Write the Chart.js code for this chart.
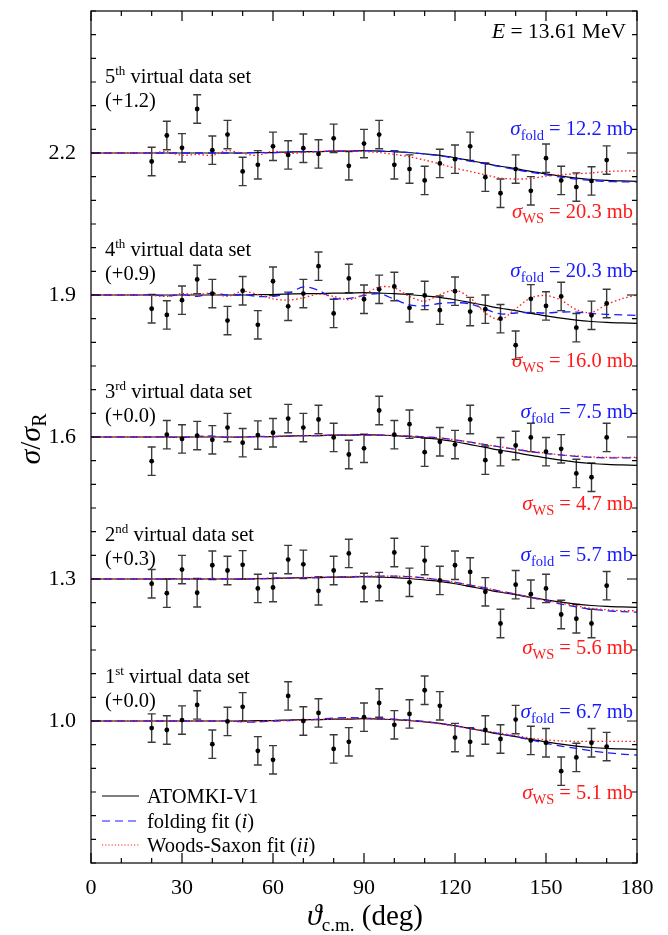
<!DOCTYPE html>
<html lang="en">
<head>
    <meta charset="UTF-8">
    <title>Virtual data sets - E = 13.61 MeV</title>
    <script src="https://cdn.jsdelivr.net/npm/chart.js"></script>
    <style>
        body { margin: 0; background: #fff; }
        #wrap { width: 668px; height: 935px; }
    </style>
</head>
<body>
<div id="wrap"><canvas id="chart"></canvas></div>
<script>
// measured angles (deg)
const angles = [20, 25, 30, 35, 40, 45, 50, 55, 60, 65, 70, 75, 80, 85, 90, 95,
                100, 105, 110, 115, 120, 125, 130, 135, 140, 145, 150, 155, 160, 165, 170];
const errHalf = 0.03;

// virtual data sets (already shifted as drawn)
const set1 = [0.985, 0.981, 1.002, 1.034, 0.951, 0.999, 1.030, 0.937, 0.918, 1.053, 1.000, 1.017, 0.941, 0.956, 1.008, 1.038,
              0.992, 1.015, 1.065, 1.032, 0.965, 0.956, 0.981, 0.962, 1.003, 0.959, 0.954, 0.894, 0.923, 0.954, 0.946];
const set2 = [1.290, 1.270, 1.320, 1.271, 1.329, 1.318, 1.330, 1.280, 1.282, 1.341, 1.331, 1.275, 1.318, 1.354, 1.282, 1.284,
              1.356, 1.293, 1.339, 1.297, 1.329, 1.315, 1.273, 1.206, 1.288, 1.268, 1.280, 1.225, 1.216, 1.206, 1.286];
const set3 = [1.549, 1.605, 1.596, 1.603, 1.594, 1.620, 1.588, 1.604, 1.609, 1.639, 1.620, 1.637, 1.599, 1.563, 1.576, 1.656,
              1.605, 1.627, 1.568, 1.590, 1.584, 1.637, 1.551, 1.569, 1.582, 1.599, 1.569, 1.575, 1.523, 1.515, 1.599];
const set4 = [1.871, 1.858, 1.889, 1.933, 1.903, 1.846, 1.909, 1.837, 1.929, 1.876, 1.903, 1.961, 1.861, 1.935, 1.891, 1.912,
              1.918, 1.873, 1.899, 1.868, 1.908, 1.865, 1.870, 1.850, 1.794, 1.892, 1.877, 1.897, 1.831, 1.857, 1.882];
const set5 = [2.182, 2.237, 2.211, 2.293, 2.206, 2.239, 2.161, 2.175, 2.214, 2.196, 2.210, 2.198, 2.231, 2.173, 2.220, 2.239,
              2.175, 2.166, 2.142, 2.178, 2.187, 2.214, 2.149, 2.115, 2.166, 2.120, 2.189, 2.142, 2.128, 2.141, 2.185];

// curves, sampled every 5 deg
const curveAngles = [0, 5, 10, 15, 20, 25, 30, 35, 40, 45, 50, 55, 60, 65, 70, 75, 80, 85, 90,
                     95, 100, 105, 110, 115, 120, 125, 130, 135, 140, 145, 150, 155, 160, 165, 170, 175, 180];

const atomki1 = [1, 1, 1, 1, 1, 1, 1, 1, 1, 1, 1, 1.001, 1.001, 1.002, 1.003, 1.003, 1.004, 1.004, 1.005,
                 1.004, 1.003, 1.001, 0.998, 0.995, 0.990, 0.984, 0.978, 0.972, 0.967, 0.961, 0.956, 0.951, 0.947, 0.944, 0.942, 0.941, 0.940];
const fold1   = [1, 1, 1, 1, 1, 1, 1, 1, 1, 1, 0.998, 0.998, 1.000, 1.001, 1.002, 1.004, 1.006, 1.007, 1.006,
                 1.005, 1.004, 1.002, 0.999, 0.995, 0.990, 0.985, 0.979, 0.973, 0.967, 0.960, 0.953, 0.947, 0.942, 0.937, 0.933, 0.930, 0.928];
const ws1     = [1, 1, 1, 1, 1, 1, 1, 1, 1, 1, 0.999, 0.999, 1.001, 1.001, 1.002, 1.003, 1.004, 1.005, 1.005,
                 1.004, 1.003, 1.001, 0.998, 0.994, 0.989, 0.984, 0.979, 0.974, 0.969, 0.964, 0.960, 0.958, 0.957, 0.957, 0.957, 0.957, 0.957];

const atomki2 = [1.3, 1.3, 1.3, 1.3, 1.3, 1.3, 1.3, 1.3, 1.3, 1.3, 1.3, 1.301, 1.301, 1.302, 1.303, 1.303, 1.304, 1.304, 1.305,
                 1.304, 1.303, 1.301, 1.298, 1.295, 1.290, 1.284, 1.278, 1.272, 1.267, 1.261, 1.256, 1.251, 1.247, 1.244, 1.242, 1.241, 1.240];
const fold2   = [1.3, 1.3, 1.3, 1.3, 1.3, 1.3, 1.301, 1.299, 1.301, 1.300, 1.300, 1.300, 1.302, 1.302, 1.303, 1.303, 1.304, 1.305, 1.305,
                 1.306, 1.306, 1.305, 1.302, 1.298, 1.293, 1.287, 1.281, 1.274, 1.268, 1.261, 1.254, 1.247, 1.241, 1.236, 1.233, 1.231, 1.230];
const ws2     = [1.3, 1.3, 1.3, 1.3, 1.3, 1.3, 1.301, 1.300, 1.301, 1.300, 1.300, 1.301, 1.302, 1.302, 1.303, 1.304, 1.304, 1.305, 1.306,
                 1.306, 1.306, 1.305, 1.302, 1.298, 1.293, 1.287, 1.281, 1.274, 1.268, 1.261, 1.255, 1.249, 1.243, 1.238, 1.235, 1.233, 1.233];

const atomki3 = [1.6, 1.6, 1.6, 1.6, 1.6, 1.6, 1.6, 1.6, 1.6, 1.6, 1.6, 1.601, 1.601, 1.602, 1.603, 1.603, 1.604, 1.604, 1.605,
                 1.604, 1.603, 1.601, 1.598, 1.595, 1.590, 1.584, 1.578, 1.572, 1.567, 1.561, 1.556, 1.551, 1.547, 1.544, 1.542, 1.541, 1.540];
const fold3   = [1.6, 1.6, 1.6, 1.6, 1.6, 1.6, 1.599, 1.601, 1.602, 1.599, 1.600, 1.601, 1.601, 1.602, 1.603, 1.603, 1.604, 1.604, 1.604,
                 1.604, 1.603, 1.602, 1.600, 1.598, 1.594, 1.589, 1.584, 1.579, 1.574, 1.569, 1.565, 1.562, 1.559, 1.557, 1.556, 1.556, 1.556];
const ws3     = [1.6, 1.6, 1.6, 1.6, 1.6, 1.6, 1.600, 1.601, 1.601, 1.600, 1.600, 1.601, 1.601, 1.602, 1.603, 1.603, 1.604, 1.604, 1.604,
                 1.604, 1.603, 1.602, 1.600, 1.598, 1.594, 1.589, 1.584, 1.579, 1.574, 1.570, 1.566, 1.562, 1.560, 1.558, 1.557, 1.557, 1.557];

const atomki4 = [1.9, 1.9, 1.9, 1.9, 1.9, 1.9, 1.9, 1.9, 1.9, 1.9, 1.9, 1.901, 1.901, 1.902, 1.903, 1.903, 1.904, 1.904, 1.905,
                 1.904, 1.903, 1.901, 1.898, 1.895, 1.890, 1.884, 1.878, 1.872, 1.867, 1.861, 1.856, 1.851, 1.847, 1.844, 1.842, 1.841, 1.840];
const fold4   = [1.9, 1.9, 1.9, 1.9, 1.9, 1.898, 1.901, 1.897, 1.904, 1.900, 1.901, 1.897, 1.897, 1.903, 1.917, 1.910, 1.893, 1.893, 1.899,
                 1.903, 1.891, 1.879, 1.877, 1.882, 1.884, 1.881, 1.870, 1.860, 1.862, 1.863, 1.862, 1.864, 1.864, 1.861, 1.859, 1.858, 1.857];
const ws4     = [1.9, 1.9, 1.9, 1.9, 1.899, 1.897, 1.903, 1.901, 1.904, 1.897, 1.908, 1.901, 1.892, 1.889, 1.894, 1.902, 1.897, 1.890, 1.901,
                 1.917, 1.915, 1.897, 1.887, 1.901, 1.910, 1.894, 1.862, 1.848, 1.871, 1.894, 1.899, 1.889, 1.869, 1.863, 1.880, 1.892, 1.900];

const atomki5 = [2.2, 2.2, 2.2, 2.2, 2.2, 2.2, 2.2, 2.2, 2.2, 2.2, 2.2, 2.201, 2.201, 2.202, 2.203, 2.203, 2.204, 2.204, 2.205,
                 2.204, 2.203, 2.201, 2.198, 2.195, 2.190, 2.184, 2.178, 2.172, 2.167, 2.161, 2.156, 2.151, 2.147, 2.144, 2.142, 2.141, 2.140];
const fold5   = [2.2, 2.2, 2.2, 2.2, 2.2, 2.2, 2.2, 2.2, 2.2, 2.2, 2.2, 2.201, 2.201, 2.202, 2.203, 2.203, 2.204, 2.204, 2.205,
                 2.204, 2.203, 2.201, 2.198, 2.194, 2.189, 2.183, 2.177, 2.171, 2.165, 2.159, 2.154, 2.149, 2.145, 2.142, 2.140, 2.139, 2.139];
const ws5     = [2.2, 2.2, 2.2, 2.2, 2.2, 2.203, 2.195, 2.197, 2.195, 2.205, 2.199, 2.195, 2.204, 2.199, 2.201, 2.203, 2.204, 2.204, 2.203,
                 2.201, 2.197, 2.192, 2.185, 2.177, 2.168, 2.161, 2.154, 2.147, 2.145, 2.146, 2.151, 2.154, 2.156, 2.158, 2.161, 2.162, 2.162];

const xTickLabels = [0, 30, 60, 90, 120, 150, 180];
const yTickLabels = [1.0, 1.3, 1.6, 1.9, 2.2];

const dataSets = [set1, set2, set3, set4, set5];
const atomkiCurves = [atomki1, atomki2, atomki3, atomki4, atomki5];
const foldCurves = [fold1, fold2, fold3, fold4, fold5];
const wsCurves = [ws1, ws2, ws3, ws4, ws5];

const SERIF = '"Liberation Serif", "Times New Roman", serif';
const BLUE = '#1a1aff';
const RED = '#ff1a1a';

const pts = arr => arr.map((v, i) => ({ x: angles[i], y: v }));
const crv = arr => arr.map((v, i) => ({ x: curveAngles[i], y: v }));

const datasets = [];
atomkiCurves.forEach(c => datasets.push({ data: crv(c), showLine: true, pointRadius: 0, borderColor: '#000', borderWidth: 1.2, tension: 0.3, order: 3 }));
foldCurves.forEach(c => datasets.push({ data: crv(c), showLine: true, pointRadius: 0, borderColor: BLUE, borderWidth: 1.3, borderDash: [8, 5], tension: 0.3, order: 2 }));
wsCurves.forEach(c => datasets.push({ data: crv(c), showLine: true, pointRadius: 0, borderColor: RED, borderWidth: 1.3, borderDash: [1.5, 2.5], tension: 0.3, order: 1 }));
dataSets.forEach(s => datasets.push({ data: pts(s), isData: true, pointRadius: 2.4, pointBackgroundColor: '#000', pointBorderWidth: 0, showLine: false, order: 0 }));

// text drawn with sub/superscripts: [text, font, dy]
function rich(ctx, parts, x, y, align) {
    let w = 0;
    parts.forEach(p => { ctx.font = p[1]; w += ctx.measureText(p[0]).width; });
    let cx = align === 'right' ? x - w : (align === 'center' ? x - w / 2 : x);
    parts.forEach(p => {
        ctx.font = p[1];
        ctx.fillText(p[0], cx, y + (p[2] || 0));
        cx += ctx.measureText(p[0]).width;
    });
}

const N = '20.5px ' + SERIF;
const I = 'italic 21px ' + SERIF;
const SUB = '14.5px ' + SERIF;
const SUP = '13px ' + SERIF;

const setLabels = [
    { n: '1', s: 'st', off: '(+0.0)', y: 683 },
    { n: '2', s: 'nd', off: '(+0.3)', y: 541 },
    { n: '3', s: 'rd', off: '(+0.0)', y: 398 },
    { n: '4', s: 'th', off: '(+0.9)', y: 256 },
    { n: '5', s: 'th', off: '(+1.2)', y: 83 }
];
const foldLabels = [['6.7', 718], ['5.7', 561], ['7.5', 418], ['20.3', 277], ['12.2', 135]];
const wsLabels = [['5.1', 799], ['5.6', 654], ['4.7', 510], ['16.0', 367], ['20.3', 218]];

const errorBars = {
    id: 'errorBars',
    beforeDatasetsDraw(chart) {
        const { ctx, scales: { x, y } } = chart;
        ctx.save();
        ctx.strokeStyle = '#3a3a3a';
        ctx.lineWidth = 1.4;
        chart.data.datasets.forEach(ds => {
            if (!ds.isData) return;
            ds.data.forEach(p => {
                const px = x.getPixelForValue(p.x);
                const y1 = y.getPixelForValue(p.y + errHalf);
                const y2 = y.getPixelForValue(p.y - errHalf);
                ctx.beginPath();
                ctx.moveTo(px, y1); ctx.lineTo(px, y2);
                ctx.moveTo(px - 4, y1); ctx.lineTo(px + 4, y1);
                ctx.moveTo(px - 4, y2); ctx.lineTo(px + 4, y2);
                ctx.stroke();
            });
        });
        ctx.restore();
    }
};

const frame = {
    id: 'frame',
    afterDraw(chart) {
        const { ctx, chartArea: a, scales: { x, y } } = chart;
        ctx.save();
        ctx.strokeStyle = '#000';
        ctx.lineWidth = 1.2;
        ctx.strokeRect(a.left, a.top, a.right - a.left, a.bottom - a.top);
        ctx.beginPath();
        for (let v = 0; v <= 180; v += 10) {
            const px = x.getPixelForValue(v);
            const L = v % 30 === 0 ? 10 : 5;
            ctx.moveTo(px, a.bottom); ctx.lineTo(px, a.bottom - L);
            ctx.moveTo(px, a.top); ctx.lineTo(px, a.top + L);
        }
        for (let i = 0; i <= 36; i++) {
            const v = 0.7 + i * 0.05;
            const py = y.getPixelForValue(v);
            const major = yTickLabels.some(t => Math.abs(t - v) < 1e-6);
            const L = major ? 10 : 5;
            ctx.moveTo(a.left, py); ctx.lineTo(a.left + L, py);
            ctx.moveTo(a.right, py); ctx.lineTo(a.right - L, py);
        }
        ctx.stroke();

        ctx.fillStyle = '#000';
        ctx.textBaseline = 'alphabetic';
        rich(ctx, [['E', 'italic 22px ' + SERIF], [' = 13.61 MeV', '21.5px ' + SERIF]], 626, 38, 'right');

        setLabels.forEach(l => {
            ctx.fillStyle = '#000';
            rich(ctx, [[l.n, N], [l.s, SUP, -8], [' virtual data set', N]], 105, l.y, 'left');
            rich(ctx, [[l.off, N]], 105, l.y + 23.5, 'left');
        });
        ctx.fillStyle = BLUE;
        foldLabels.forEach(f => rich(ctx, [['σ', I], ['fold', SUB, 5], [' = ' + f[0] + ' mb', N]], 633, f[1], 'right'));
        ctx.fillStyle = RED;
        wsLabels.forEach(f => rich(ctx, [['σ', I], ['WS', SUB, 5], [' = ' + f[0] + ' mb', N]], 633, f[1], 'right'));

        // legend
        const lx1 = 102, lx2 = 139;
        ctx.lineWidth = 1.2;
        [['#000', [], 796], [BLUE, [8, 5], 821], [RED, [1.2, 2], 845]].forEach(s => {
            ctx.strokeStyle = s[0];
            ctx.setLineDash(s[1]);
            ctx.beginPath(); ctx.moveTo(lx1, s[2]); ctx.lineTo(lx2, s[2]); ctx.stroke();
        });
        ctx.setLineDash([]);
        ctx.fillStyle = '#000';
        rich(ctx, [['ATOMKI-V1', N]], 147, 803, 'left');
        rich(ctx, [['folding fit (', N], ['i', I], [')', N]], 147, 828, 'left');
        rich(ctx, [['Woods-Saxon fit (', N], ['ii', I], [')', N]], 147, 852, 'left');

        // axis titles
        rich(ctx, [['ϑ', 'italic 30px ' + SERIF], ['c.m.', '19px ' + SERIF, 6], [' (deg)', '29px ' + SERIF]], 365, 925, 'center');
        ctx.translate(40, 439);
        ctx.rotate(-Math.PI / 2);
        rich(ctx, [['σ', 'italic 30px ' + SERIF], ['/', '29px ' + SERIF], ['σ', 'italic 30px ' + SERIF], ['R', '20px ' + SERIF, 6]], 0, 0, 'center');
        ctx.restore();
    }
};

new Chart(document.getElementById('chart'), {
    type: 'scatter',
    data: { datasets: datasets },
    options: {
        responsive: true,
        maintainAspectRatio: false,
        animation: false,
        layout: { padding: { top: 11, right: 31, left: 0, bottom: 0 } },
        plugins: { legend: { display: false }, tooltip: { enabled: false } },
        scales: {
            x: {
                type: 'linear', min: 0, max: 180,
                afterBuildTicks: s => { s.ticks = xTickLabels.map(v => ({ value: v })); },
                afterFit: s => { s.height = 72; s.paddingLeft = 0; s.paddingRight = 0; },
                grid: { display: false, drawTicks: false }, border: { display: false },
                ticks: { color: '#000', font: { family: SERIF, size: 22 }, padding: 12, maxRotation: 0 }
            },
            y: {
                type: 'linear', min: 0.7, max: 2.5,
                afterBuildTicks: s => { s.ticks = yTickLabels.map(v => ({ value: v })); },
                afterFit: s => { s.width = 91; s.paddingTop = 0; s.paddingBottom = 0; },
                grid: { display: false, drawTicks: false }, border: { display: false },
                ticks: { color: '#000', font: { family: SERIF, size: 22 }, padding: 15, callback: v => v.toFixed(1) }
            }
        }
    },
    plugins: [errorBars, frame]
});
</script>
</body>
</html>
